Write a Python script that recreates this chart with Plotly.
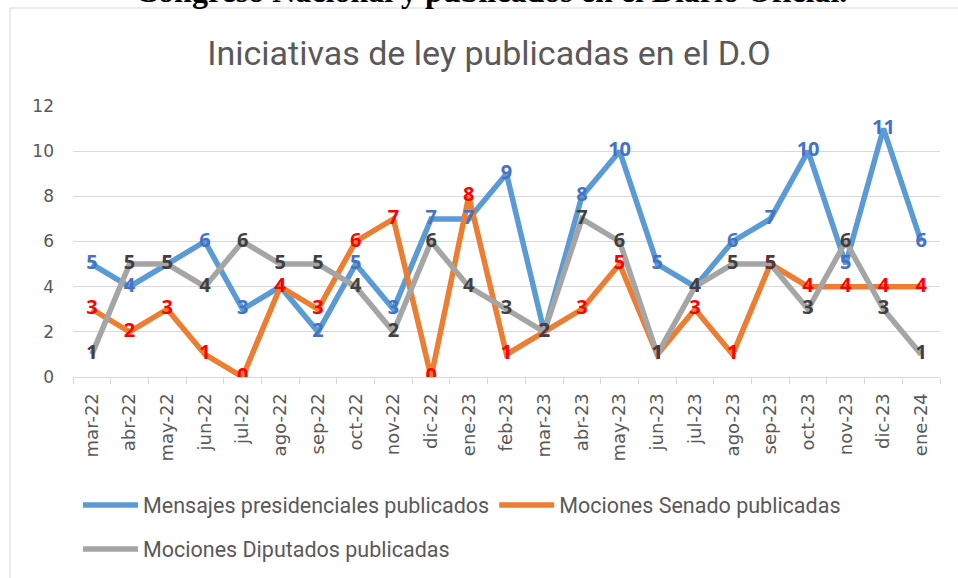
import plotly.graph_objects as go

months = ["mar-22", "abr-22", "may-22", "jun-22", "jul-22", "ago-22", "sep-22", "oct-22",
          "nov-22", "dic-22", "ene-23", "feb-23", "mar-23", "abr-23", "may-23", "jun-23",
          "jul-23", "ago-23", "sep-23", "oct-23", "nov-23", "dic-23", "ene-24"]
mensajes = [5, 4, 5, 6, 3, 4, 2, 5, 3, 7, 7, 9, 2, 8, 10, 5, 4, 6, 7, 10, 5, 11, 6]
senado = [3, 2, 3, 1, 0, 4, 3, 6, 7, 0, 8, 1, 2, 3, 5, 1, 3, 1, 5, 4, 4, 4, 4]
diputados = [1, 5, 5, 4, 6, 5, 5, 4, 2, 6, 4, 3, 2, 7, 6, 1, 4, 5, 5, 3, 6, 3, 1]
y_ticks = [0, 2, 4, 6, 8, 10, 12]

names = ["Mensajes presidenciales publicados", "Mociones Senado publicadas",
         "Mociones Diputados publicadas"]
series = [mensajes, senado, diputados]
line_colors = ["#5B9BD5", "#ED7D31", "#A5A5A5"]
label_colors = ["#4472C4", "#FF0000", "#404040"]
legends = ["legend", "legend", "legend2"]

W, H = 958, 578
L, R, T, B = 73, 18, 106, 201
pw, ph = W - L - R, H - T - B


def px_x(p):
    return (p - L) / pw


def px_y(p):
    return (H - B - p) / ph


fig = go.Figure()
for name, vals, lc, lg in zip(names, series, line_colors, legends):
    fig.add_trace(go.Scatter(
        x=months, y=vals, name=name, mode="lines",
        line=dict(color=lc, width=5.5), legend=lg,
    ))
for vals, tc in zip(series, label_colors):
    fig.add_trace(go.Scatter(
        x=months, y=vals, mode="text", text=[str(v) for v in vals],
        textposition="middle center", showlegend=False, hoverinfo="skip",
        textfont=dict(family="Open Sans", size=20, color=tc, weight="bold"),
    ))

legend_font = dict(family="Roboto", size=21.5, color="#595959")

fig.update_layout(
    width=W, height=H,
    margin=dict(l=L, r=R, t=T, b=B, autoexpand=False),
    paper_bgcolor="white", plot_bgcolor="white",
    title=dict(text="Iniciativas de ley publicadas en el D.O",
               font=dict(family="Roboto", size=34, color="#595959"),
               x=489 / W, xanchor="center", y=1 - 53 / H, yanchor="middle"),
    xaxis=dict(type="category", range=[-0.5, len(months) - 0.5], tickangle=-90,
               ticks="outside", tickson="boundaries", ticklen=6, tickcolor="#D9D9D9",
               showline=True, linecolor="#D9D9D9", linewidth=1, showgrid=False,
               ticklabelstandoff=8, automargin=False,
               tickfont=dict(family="DejaVu Sans", size=18, color="#595959")),
    yaxis=dict(range=[0, 12], tickvals=y_ticks, showgrid=True, gridcolor="#D9D9D9",
               gridwidth=1, zeroline=False, showline=False, ticklabelstandoff=18,
               automargin=False,
               tickfont=dict(family="DejaVu Sans", size=17, color="#595959")),
    legend=dict(orientation="h", x=px_x(78), xanchor="left", y=px_y(505), yanchor="middle",
                itemwidth=55, font=legend_font, bgcolor="rgba(0,0,0,0)"),
    legend2=dict(orientation="h", x=px_x(78), xanchor="left", y=px_y(549), yanchor="middle",
                 itemwidth=55, font=legend_font, bgcolor="rgba(0,0,0,0)"),
    showlegend=True,
)

fig.add_annotation(text="Congreso Nacional y publicados en el Diario Oficial.",
                   xref="paper", yref="paper", x=px_x(491), y=px_y(11),
                   xanchor="center", yanchor="bottom", showarrow=False,
                   font=dict(family="Liberation Serif", size=32, color="black", weight="bold"))

fig.add_shape(type="path", xref="paper", yref="paper",
              path=f"M {px_x(10)} {px_y(600)} L {px_x(10)} {px_y(8)} L {px_x(970)} {px_y(8)}",
              line=dict(color="#D9D9D9", width=1))

fig.write_html("out.html", config={"displayModeBar": False},
               post_script="document.body.style.margin='0';document.body.style.overflow='hidden';")
